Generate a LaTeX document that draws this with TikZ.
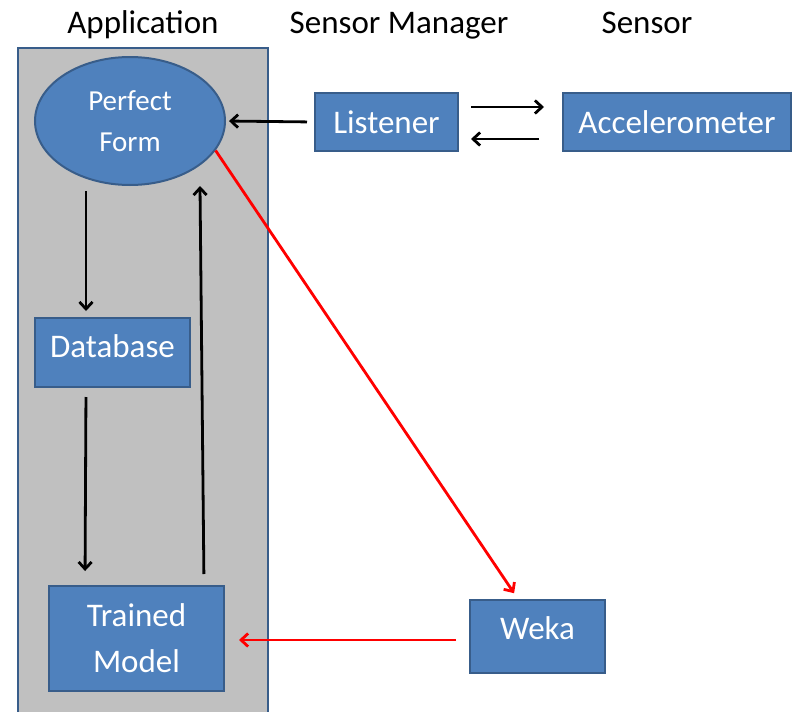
\documentclass[tikz,border=0pt]{standalone}
\usepackage{fontspec}
\setmainfont{Carlito}
\usetikzlibrary{arrows.meta,shapes.geometric}
\definecolor{boxfill}{HTML}{4F81BD}
\definecolor{boxedge}{HTML}{385D8A}
\definecolor{panelfill}{HTML}{C0C0C0}

\begin{document}
\begin{tikzpicture}[x=1pt,y=-1pt,
    block/.style={rectangle,draw=boxedge,fill=boxfill,line width=2pt,text=white,inner sep=0pt,align=center,font=\fontsize{33}{46}\selectfont},
    panel/.style={rectangle,draw=boxedge,fill=panelfill,line width=2pt},
    title/.style={anchor=base,font=\fontsize{33}{38}\selectfont},
    link/.style={-{Straight Barb[length=7pt,width=13pt]},line width=2.8pt,black},
    data/.style={link,red}
]
\clip (0,0) rectangle (796,712);
\node[panel,minimum width=250pt,minimum height=682pt] (app) at (143,389) {};
\node[title] (tapp) at (143,33) {Application};
\node[title] (tmgr) at (399,33) {Sensor Manager};
\node[title] (tsen) at (647,33) {Sensor};
\node[block,ellipse,minimum width=190pt,minimum height=128pt,font=\fontsize{29}{41}\selectfont] (form) at (130,121) {Perfect\\Form};
\node[block,minimum width=143pt,minimum height=58pt] (lst) at (386.5,122) {Listener};
\node[block,minimum width=228pt,minimum height=58pt] (acc) at (677,122) {Accelerometer};
\node[block,minimum width=155pt,minimum height=69pt,text height=21pt,text depth=12pt] (db) at (112.5,352.5) {Database};
\node[block,minimum width=175pt,minimum height=105pt] (tm) at (136.5,638.5) {Trained\\Model};
\node[block,minimum width=135pt,minimum height=73pt,text height=21pt,text depth=16pt] (weka) at (537.5,636.5) {Weka};
\draw[link,shorten <=7pt,shorten >=3pt] (lst.west) -- (form.east);
\draw[link,shorten <=12pt,shorten >=18pt] ([yshift=15pt]lst.east) -- ([yshift=15pt]acc.west);
\draw[link,shorten <=23pt,shorten >=12pt] ([yshift=-17pt]acc.west) -- ([yshift=-17pt]lst.east);
\draw[link,shorten <=5pt,shorten >=6pt] ([xshift=-44pt]form.south) -- ([xshift=-26.5pt]db.north);
\draw[link,shorten <=9pt,shorten >=14pt] ([xshift=-26.5pt]db.south) -- ([xshift=-51.5pt]tm.north);
\draw[link,shorten <=11pt] ([xshift=67.5pt]tm.north) -- ([xshift=70pt]form.south);
\draw[data,shorten >=7pt] (form.-19) -- ([xshift=-19.5pt]weka.north);
\draw[data,shorten <=13pt,shorten >=14pt] ([yshift=-3.5pt]weka.west) -- ([yshift=-1.5pt]tm.east);
\end{tikzpicture}
\end{document}
